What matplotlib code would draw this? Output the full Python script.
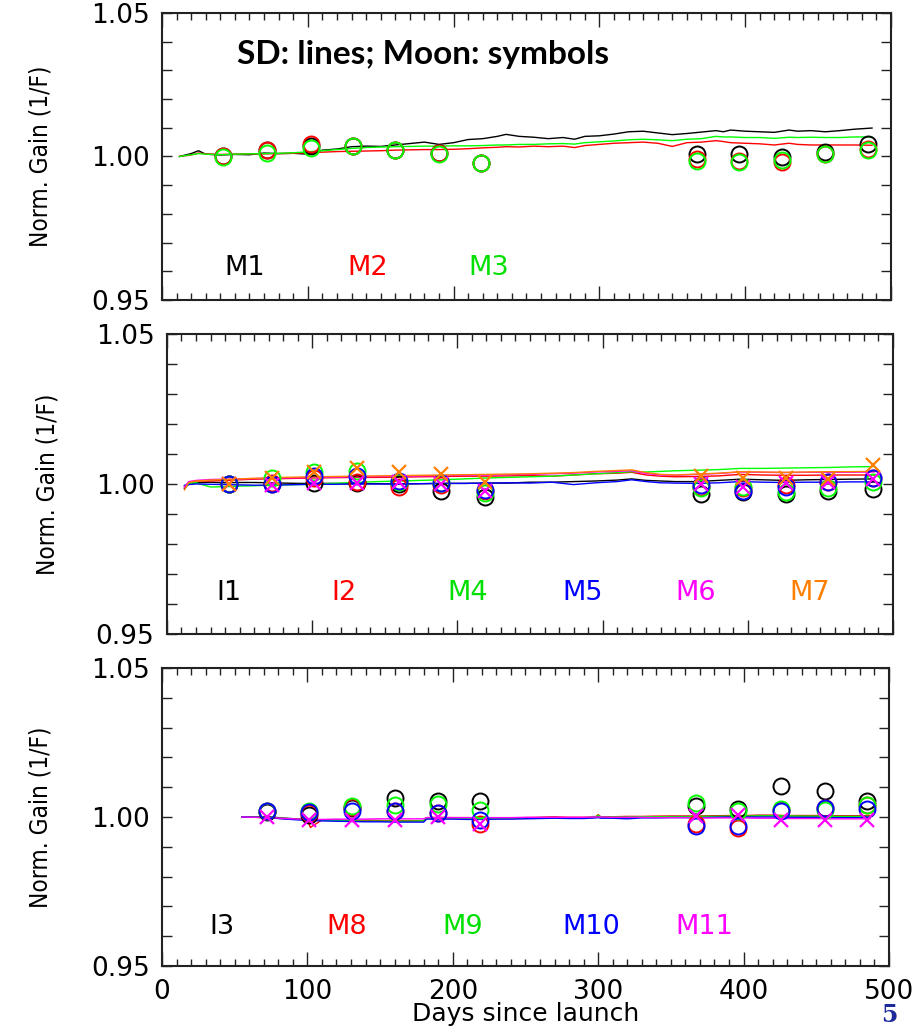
import matplotlib

matplotlib.use("Agg")
import matplotlib.pyplot as plt
from matplotlib.ticker import MultipleLocator, FormatStrFormatter
from matplotlib import font_manager

# ---------------------------------------------------------------- panel 1 data
P1_DAYS = [12, 20, 25, 30, 40, 50, 60, 70, 80, 90, 100, 110, 120, 130, 140, 150,
           160, 170, 180, 190, 200, 210, 220, 230, 236, 245, 255, 265, 275, 283,
           290, 300, 310, 320, 330, 340, 350, 360, 370, 380, 385, 390, 400, 410,
           420, 430, 436, 445, 455, 465, 475, 487]
SD_M1 = [1.0000, 1.0010, 1.0020, 1.0008, 1.0005, 1.0007, 1.0006, 1.0012, 1.0010,
         1.0011, 1.0008, 1.0022, 1.0026, 1.0034, 1.0036, 1.0035, 1.0040, 1.0045,
         1.0050, 1.0042, 1.0048, 1.0059, 1.0062, 1.0070, 1.0077, 1.0070, 1.0067,
         1.0062, 1.0066, 1.0060, 1.0070, 1.0072, 1.0078, 1.0086, 1.0088, 1.0082,
         1.0076, 1.0080, 1.0085, 1.0090, 1.0086, 1.0092, 1.0088, 1.0086, 1.0084,
         1.0092, 1.0088, 1.0090, 1.0086, 1.0090, 1.0095, 1.0099]
SD_M2 = [1.0000, 1.0005, 1.0012, 1.0009, 1.0007, 1.0008, 1.0009, 1.0009, 1.0010,
         1.0011, 1.0013, 1.0015, 1.0017, 1.0018, 1.0019, 1.0020, 1.0022, 1.0023,
         1.0024, 1.0024, 1.0025, 1.0027, 1.0030, 1.0032, 1.0034, 1.0033, 1.0036,
         1.0034, 1.0036, 1.0031, 1.0038, 1.0042, 1.0046, 1.0048, 1.0050, 1.0046,
         1.0035, 1.0048, 1.0050, 1.0055, 1.0052, 1.0048, 1.0046, 1.0044, 1.0040,
         1.0046, 1.0042, 1.0040, 1.0040, 1.0040, 1.0040, 1.0039]
SD_M3 = [1.0000, 1.0006, 1.0010, 1.0008, 1.0006, 1.0008, 1.0009, 1.0010, 1.0011,
         1.0013, 1.0016, 1.0020, 1.0024, 1.0028, 1.0031, 1.0033, 1.0034, 1.0035,
         1.0036, 1.0036, 1.0037, 1.0037, 1.0038, 1.0040, 1.0040, 1.0042, 1.0042,
         1.0044, 1.0045, 1.0043, 1.0048, 1.0051, 1.0054, 1.0058, 1.0060, 1.0058,
         1.0055, 1.0060, 1.0062, 1.0070, 1.0068, 1.0068, 1.0066, 1.0066, 1.0063,
         1.0067, 1.0066, 1.0067, 1.0066, 1.0066, 1.0068, 1.0068]

P1_MOON_DAYS = [42, 72, 102, 131, 160, 190, 219, 367, 396, 425, 455, 484]
MOON_M1 = [1.0000, 1.0024, 1.0035, 1.0038, 1.0024, 1.0013, 0.9978, 1.0007, 1.0010, 0.9998, 1.0015, 1.0045]
MOON_M2 = [1.0000, 1.0024, 1.0045, 1.0038, 1.0024, 1.0013, 0.9976, 0.9992, 0.9985, 0.9982, 1.0010, 1.0027]
MOON_M3 = [0.9998, 1.0013, 1.0028, 1.0038, 1.0021, 1.0010, 0.9978, 0.9984, 0.9982, 0.9986, 1.0007, 1.0022]

# ---------------------------------------------------------------- panel 2 data
P2_DAYS = [12, 15, 20, 30, 40, 50, 60, 70, 80, 90, 100, 115, 130, 145, 160, 175,
           190, 205, 220, 235, 250, 265, 280, 295, 310, 320, 330, 340, 350, 365,
           380, 395, 410, 425, 440, 455, 470, 487]
SD_I1 = [0.9985, 1.0000, 1.0004, 1.0006, 1.0004, 1.0005, 1.0005, 1.0004, 1.0003,
         1.0002, 1.0002, 1.0002, 1.0001, 1.0001, 1.0000, 1.0001, 1.0002, 1.0002,
         1.0003, 1.0003, 1.0006, 1.0006, 1.0008, 1.0010, 1.0013, 1.0017, 1.0012,
         1.0010, 1.0008, 1.0008, 1.0012, 1.0016, 1.0014, 1.0012, 1.0014, 1.0015,
         1.0016, 1.0017]
SD_I2 = [0.9990, 1.0005, 1.0010, 1.0010, 1.0012, 1.0014, 1.0016, 1.0017, 1.0018,
         1.0019, 1.0020, 1.0021, 1.0022, 1.0022, 1.0023, 1.0024, 1.0025, 1.0026,
         1.0026, 1.0027, 1.0028, 1.0026, 1.0030, 1.0034, 1.0036, 1.0039, 1.0030,
         1.0026, 1.0024, 1.0025, 1.0027, 1.0032, 1.0030, 1.0029, 1.0029, 1.0030,
         1.0030, 1.0030]
SD_M4 = [0.9995, 1.0002, 1.0004, 0.9990, 0.9991, 0.9993, 0.9994, 0.9996, 0.9997,
         0.9998, 0.9999, 1.0002, 1.0005, 1.0008, 1.0010, 1.0012, 1.0014, 1.0017,
         1.0020, 1.0022, 1.0024, 1.0026, 1.0030, 1.0034, 1.0038, 1.0041, 1.0040,
         1.0042, 1.0044, 1.0046, 1.0048, 1.0052, 1.0052, 1.0053, 1.0054, 1.0055,
         1.0057, 1.0058]
SD_M5 = [0.9995, 0.9998, 1.0000, 0.9999, 0.9998, 0.9997, 0.9996, 0.9996, 0.9997,
         0.9998, 0.9999, 0.9999, 1.0000, 1.0000, 1.0000, 1.0001, 1.0002, 1.0002,
         1.0003, 1.0004, 1.0003, 1.0006, 0.9998, 1.0004, 1.0008, 1.0014, 1.0008,
         1.0004, 1.0003, 1.0002, 1.0004, 1.0008, 1.0006, 1.0005, 1.0006, 1.0006,
         1.0007, 1.0007]
SD_M6 = [0.9990, 1.0008, 1.0012, 1.0015, 1.0016, 1.0017, 1.0018, 1.0019, 1.0020,
         1.0021, 1.0022, 1.0023, 1.0024, 1.0025, 1.0026, 1.0027, 1.0028, 1.0029,
         1.0030, 1.0031, 1.0032, 1.0034, 1.0036, 1.0040, 1.0042, 1.0044, 1.0035,
         1.0030, 1.0029, 1.0032, 1.0035, 1.0040, 1.0039, 1.0038, 1.0039, 1.0039,
         1.0039, 1.0040]
SD_M7 = [0.9980, 1.0005, 1.0010, 1.0013, 1.0015, 1.0017, 1.0019, 1.0020, 1.0022,
         1.0023, 1.0024, 1.0025, 1.0026, 1.0027, 1.0028, 1.0029, 1.0030, 1.0031,
         1.0032, 1.0033, 1.0034, 1.0036, 1.0038, 1.0042, 1.0045, 1.0047, 1.0038,
         1.0032, 1.0030, 1.0033, 1.0036, 1.0041, 1.0040, 1.0039, 1.0040, 1.0041,
         1.0041, 1.0042]

P2_MOON_DAYS = [43, 72, 101, 131, 160, 189, 219, 368, 397, 426, 455, 486]
MOON_I1 = [1.0000, 1.0000, 1.0002, 1.0002, 1.0000, 0.9978, 0.9958, 0.9966, 0.9972, 0.9966, 0.9977, 0.9983]
MOON_I2 = [1.0000, 1.0002, 1.0019, 1.0008, 0.9989, 0.9997, 0.9975, 0.9991, 0.9986, 0.9997, 1.0008, 1.0019]
MOON_M4 = [1.0000, 1.0020, 1.0039, 1.0043, 1.0008, 1.0002, 0.9969, 0.9986, 0.9991, 0.9974, 0.9988, 1.0008]
MOON_M5 = [1.0000, 1.0000, 1.0028, 1.0027, 1.0010, 1.0004, 0.9980, 0.9997, 0.9977, 0.9991, 1.0008, 1.0021]
MOON_M6 = [1.0000, 0.9997, 1.0002, 1.0004, 1.0008, 1.0000, 0.9977, 1.0000, 0.9989, 1.0002, 1.0008, 1.0017]
MOON_M7 = [1.0000, 1.0019, 1.0039, 1.0054, 1.0039, 1.0032, 1.0008, 1.0028, 1.0019, 1.0021, 1.0017, 1.0063]

# ---------------------------------------------------------------- panel 3 data
P3_DAYS = [55, 65, 75, 85, 95, 100, 102, 110, 120, 130, 140, 150, 160, 170, 180,
           182, 190, 200, 210, 220, 230, 240, 250, 260, 270, 280, 290, 298, 300,
           302, 310, 320, 330, 340, 350, 360, 370, 380, 390, 400, 410, 420, 430,
           440, 450, 460, 470, 487]
SD_I3 = [1.0000, 1.0001, 1.0000, 0.9996, 0.9993, 0.9992, 0.9992, 0.9990, 0.9989,
         0.9988, 0.9988, 0.9988, 0.9987, 0.9987, 0.9988, 0.9997, 0.9997, 0.9997,
         0.9996, 0.9995, 0.9995, 0.9995, 0.9996, 0.9998, 0.9999, 0.9997, 0.9997,
         0.9999, 1.0002, 0.9999, 1.0000, 1.0000, 1.0001, 1.0001, 1.0002, 1.0002,
         1.0002, 1.0003, 1.0004, 1.0004, 1.0005, 1.0005, 1.0004, 1.0004, 1.0004,
         1.0003, 1.0003, 1.0003]
SD_M8 = [1.0000, 0.9999, 0.9997, 0.9994, 0.9992, 0.9991, 0.9965, 0.9990, 0.9989,
         0.9988, 0.9989, 0.9988, 0.9988, 0.9988, 0.9988, 0.9998, 0.9999, 0.9998,
         0.9998, 0.9997, 0.9997, 0.9997, 0.9998, 0.9999, 1.0000, 0.9999, 0.9999,
         1.0000, 1.0008, 1.0000, 1.0001, 1.0002, 1.0002, 1.0003, 1.0003, 1.0003,
         1.0003, 1.0004, 1.0005, 1.0005, 1.0006, 1.0006, 1.0005, 1.0005, 1.0005,
         1.0004, 1.0004, 1.0004]
SD_M9 = [1.0000, 1.0000, 0.9998, 0.9995, 0.9992, 0.9991, 0.9990, 0.9989, 0.9988,
         0.9987, 0.9986, 0.9986, 0.9986, 0.9986, 0.9987, 0.9996, 0.9996, 0.9996,
         0.9995, 0.9995, 0.9995, 0.9996, 0.9997, 0.9998, 0.9998, 0.9997, 0.9998,
         0.9999, 1.0006, 0.9999, 1.0000, 1.0000, 1.0001, 1.0001, 1.0001, 1.0001,
         1.0002, 1.0002, 1.0003, 1.0003, 1.0004, 1.0004, 1.0004, 1.0003, 1.0003,
         1.0002, 1.0002, 1.0002]
SD_M10 = [1.0000, 0.9999, 0.9997, 0.9993, 0.9990, 0.9989, 0.9988, 0.9987, 0.9986,
          0.9985, 0.9984, 0.9984, 0.9983, 0.9983, 0.9983, 0.9993, 0.9993, 0.9993,
          0.9992, 0.9992, 0.9993, 0.9993, 0.9994, 0.9995, 0.9996, 0.9995, 0.9995,
          0.9997, 0.9998, 0.9996, 0.9996, 0.9994, 0.9997, 0.9997, 0.9998, 0.9998,
          0.9998, 0.9999, 1.0000, 1.0000, 1.0000, 1.0000, 0.9999, 0.9999, 0.9999,
          0.9998, 0.9998, 0.9998]
SD_M11 = [1.0000, 0.9999, 0.9998, 0.9995, 0.9993, 0.9992, 0.9992, 0.9992, 0.9993,
          0.9993, 0.9993, 0.9994, 0.9994, 0.9994, 0.9994, 0.9998, 0.9998, 0.9998,
          0.9998, 0.9998, 0.9998, 0.9998, 0.9999, 0.9999, 0.9999, 0.9999, 0.9999,
          1.0000, 1.0000, 1.0000, 0.9999, 0.9999, 0.9999, 0.9998, 0.9998, 0.9998,
          0.9997, 0.9997, 0.9997, 0.9997, 0.9996, 0.9996, 0.9995, 0.9995, 0.9995,
          0.9994, 0.9994, 0.9994]

P3_MOON_DAYS = [72, 101, 131, 160, 190, 219, 367, 396, 426, 456, 485]
MOON_I3 = [1.0016, 1.0008, 1.0030, 1.0064, 1.0053, 1.0055, 1.0036, 1.0028, 1.0105, 1.0086, 1.0055]
MOON_M8 = [1.0019, 1.0013, 1.0032, 1.0019, 1.0013, 0.9978, 0.9976, 0.9963, 1.0025, 1.0030, 1.0041]
MOON_M9 = [1.0019, 1.0019, 1.0036, 1.0039, 1.0044, 1.0022, 1.0047, 1.0019, 1.0028, 1.0025, 1.0041]
MOON_M10 = [1.0019, 1.0017, 1.0019, 1.0019, 1.0013, 0.9989, 0.9969, 0.9969, 1.0019, 1.0030, 1.0028]
MOON_M11 = [1.0000, 0.9991, 0.9989, 0.9991, 1.0000, 0.9976, 1.0002, 1.0006, 0.9989, 0.9991, 0.9991]

BLACK = "#000000"
RED = "#ff0000"
GREEN = "#00ff00"
BLUE = "#0000ff"
MAGENTA = "#ff00ff"
ORANGE = "#ff7f00"
TEXT_GREEN = "#00e000"

# (label, sd values, moon values, colour, marker, label x day)
PANELS = [
    dict(pos=(0.1759, 0.7085, 0.7915, 0.2789), days=P1_DAYS, moon_days=P1_MOON_DAYS,
         label_y=0.9610, ylab_x=-0.150,
         bands=[("M1", SD_M1, MOON_M1, BLACK, "o", 57),
                ("M2", SD_M2, MOON_M2, RED, "o", 141),
                ("M3", SD_M3, MOON_M3, GREEN, "o", 224)]),
    dict(pos=(0.1813, 0.3839, 0.7883, 0.2915), days=P2_DAYS, moon_days=P2_MOON_DAYS,
         label_y=0.9635, ylab_x=-0.148,
         bands=[("I1", SD_I1, MOON_I1, BLACK, "o", 43),
                ("I2", SD_I2, MOON_I2, RED, "o", 122),
                ("M4", SD_M4, MOON_M4, GREEN, "o", 207),
                ("M5", SD_M5, MOON_M5, BLUE, "o", 286),
                ("M6", SD_M6, MOON_M6, MAGENTA, "x", 364),
                ("M7", SD_M7, MOON_M7, ORANGE, "x", 443)]),
    dict(pos=(0.1759, 0.0612, 0.7893, 0.2896), days=P3_DAYS, moon_days=P3_MOON_DAYS,
         label_y=0.9630, ylab_x=-0.150,
         bands=[("I3", SD_I3, MOON_I3, BLACK, "o", 41),
                ("M8", SD_M8, MOON_M8, RED, "o", 127),
                ("M9", SD_M9, MOON_M9, GREEN, "o", 207),
                ("M10", SD_M10, MOON_M10, BLUE, "o", 295),
                ("M11", SD_M11, MOON_M11, MAGENTA, "x", 373)]),
]

names = {f.name for f in font_manager.fontManager.ttflist}
stretches = {(f.name, f.stretch) for f in font_manager.fontManager.ttflist}
if "Liberation Sans Narrow" in names:
    YLAB_FONT = dict(family="Liberation Sans Narrow", fontsize=19)
elif ("DejaVu Sans", "condensed") in stretches or ("DejaVu Sans", 75) in stretches:
    YLAB_FONT = dict(family="DejaVu Sans", fontstretch="condensed", fontsize=17.5)
else:
    YLAB_FONT = dict(family="DejaVu Sans", fontsize=16)

TICK_FONT = "DejaVu Sans"

fig = plt.figure(figsize=(9.21, 10.29), dpi=100)

for i, panel in enumerate(PANELS):
    ax = fig.add_axes(panel["pos"])
    for name, sd, moon, color, marker, lx in panel["bands"]:
        ax.plot(panel["days"], sd, color=color, linewidth=1.0, zorder=2)
    for name, sd, moon, color, marker, lx in panel["bands"]:
        if marker == "o":
            ax.plot(panel["moon_days"], moon, linestyle="none", marker="o", markersize=11.5,
                    markerfacecolor="none", markeredgecolor=color, markeredgewidth=1.4, zorder=3)
        else:
            ax.plot(panel["moon_days"], moon, linestyle="none", marker="x", markersize=10,
                    markeredgecolor=color, markeredgewidth=1.6, zorder=4)
        ax.text(lx, panel["label_y"], name, color=TEXT_GREEN if color == GREEN else color,
                fontsize=19.5, family=TICK_FONT, ha="center", va="center")

    ax.set_xlim(0, 500)
    ax.set_ylim(0.95, 1.05)
    ax.xaxis.set_major_locator(MultipleLocator(100))
    ax.xaxis.set_minor_locator(MultipleLocator(10))
    ax.yaxis.set_major_locator(MultipleLocator(0.05))
    ax.yaxis.set_minor_locator(MultipleLocator(0.01))
    ax.yaxis.set_major_formatter(FormatStrFormatter("%.2f"))
    ax.tick_params(axis="both", which="both", direction="in", top=True, right=True,
                   width=1.0, colors="#222222")
    ax.tick_params(axis="x", which="major", length=10, pad=9)
    ax.tick_params(axis="x", which="minor", length=5)
    ax.tick_params(axis="y", which="both", length=7, pad=9)
    for lab in ax.get_yticklabels() + ax.get_xticklabels():
        lab.set_family(TICK_FONT)
        lab.set_fontsize(19)
        lab.set_color("black")
    if i < 2:
        ax.set_xticklabels([])
    for spine in ax.spines.values():
        spine.set_linewidth(1.5)
        spine.set_color("#222222")
    ax.set_ylabel("Norm. Gain (1/F)", **YLAB_FONT)
    ax.yaxis.set_label_coords(panel["ylab_x"], 0.5)

    if i == 0:
        ax.text(0.103, 0.855, "SD: lines; Moon: symbols", transform=ax.transAxes,
                family="Lato", fontweight="bold", fontsize=24, ha="left", va="center")

fig.text(526 / 921, 1 - 1014 / 1029, "Days since launch", family=TICK_FONT, fontsize=18,
         ha="center", va="center")
fig.text(889 / 921, 2 / 1029, "5", family="DejaVu Serif", fontweight="bold",
         fontsize=17, color="#1c2a9c", ha="center", va="bottom")

fig.savefig("out.png", dpi=100)
